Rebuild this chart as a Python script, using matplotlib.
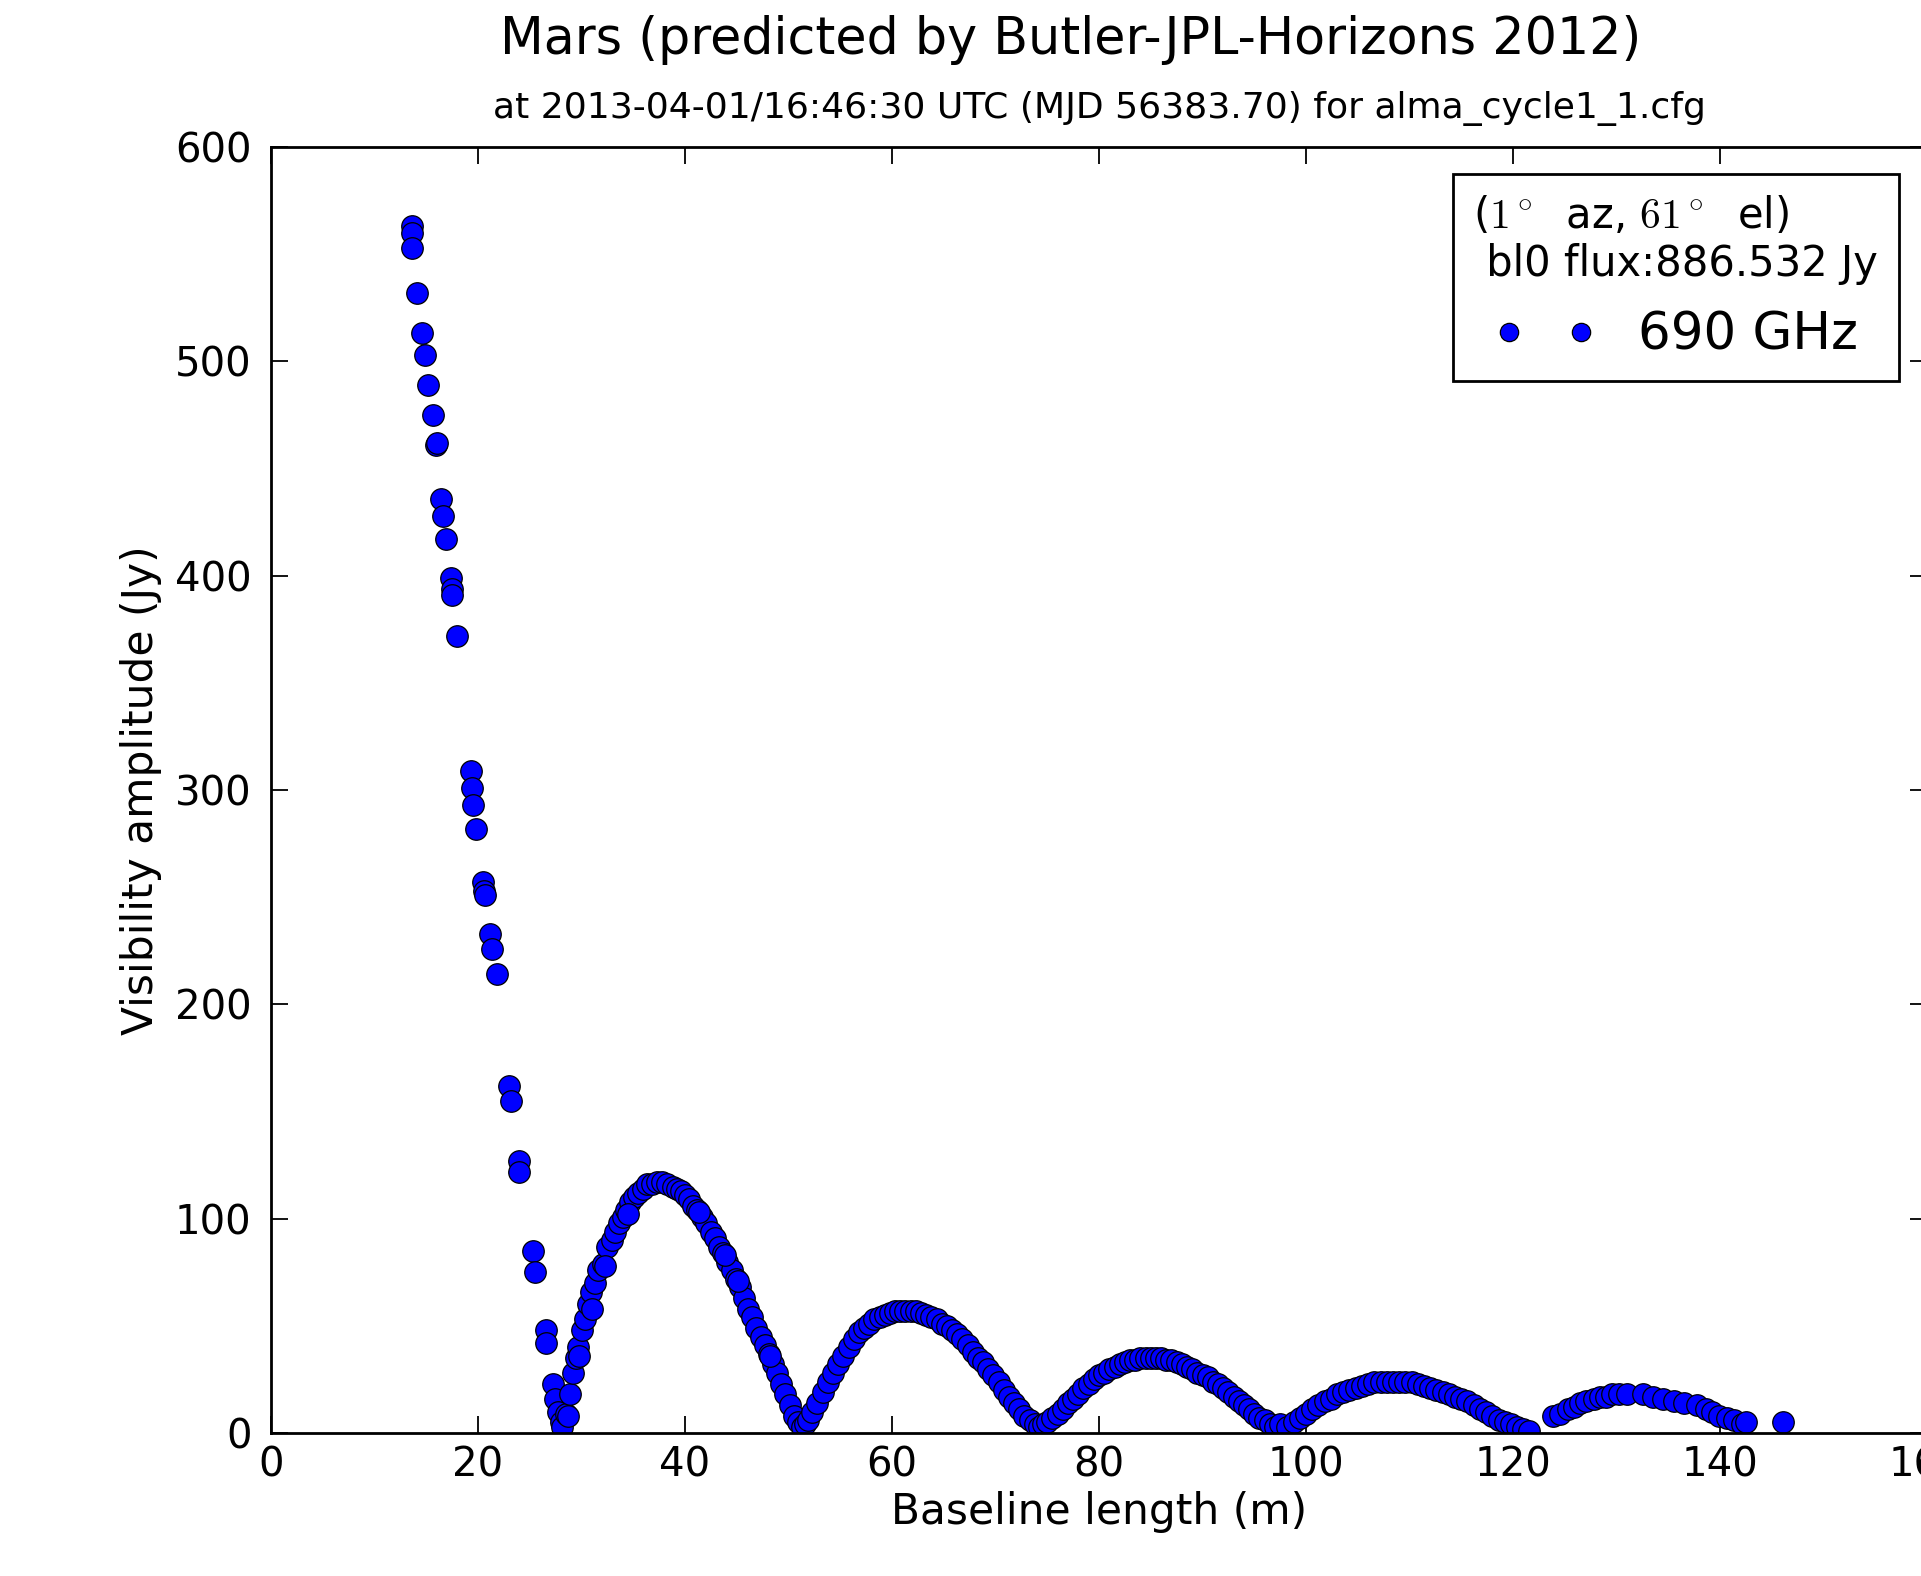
import numpy as np
import matplotlib.pyplot as plt

plt.rcParams['mathtext.fontset'] = 'cm'

# Visibility amplitude vs baseline length
# main lobe
main_x = [13.6, 13.6, 13.6, 14.1, 14.6, 14.9, 15.2, 15.7, 15.9, 16.0, 16.4, 16.6, 16.9, 17.4, 17.5, 17.5,
          18.0, 19.3, 19.4, 19.5, 19.8, 20.5, 20.6, 20.7, 21.2, 21.4, 21.8, 23.0, 23.2, 24.0, 24.0, 25.3,
          25.5, 26.6, 26.6, 27.2, 27.4, 27.7, 28.0, 28.1]
main_y = [563, 560, 553, 532, 513, 503, 489, 475, 461, 462, 436, 428, 417, 399, 394, 391,
          372, 309, 301, 293, 282, 257, 253, 251, 233, 226, 214, 162, 155, 127, 122, 85,
          75, 48, 42, 23, 16, 10, 5, 3]

# first side lobe
lobe1_x = [28.5, 28.7, 28.9, 29.2, 29.5, 29.7, 30.0, 30.3, 30.6, 30.9, 31.3, 31.6, 32.1, 32.5, 32.9, 33.2,
           33.6, 34.0, 34.3, 34.7, 35.1, 35.5, 35.9, 36.3, 36.8, 37.3, 37.8, 38.3, 38.8, 39.2, 39.6, 40.0,
           40.4, 40.8, 41.2, 41.6, 42.0, 42.5, 42.9, 43.3, 43.7, 44.1, 44.5, 44.9, 45.3, 45.7, 46.1, 46.5,
           46.9, 47.3, 47.7, 48.1, 48.5, 48.9, 49.3, 49.7, 50.1, 50.5, 50.9, 51.3,
           29.8, 31.0, 32.3, 34.5, 41.4, 43.9, 45.1, 48.2]
lobe1_y = [9, 8, 18, 28, 35, 40, 48, 53, 60, 66, 70, 76, 79, 87, 90, 94,
           98, 101, 104, 108, 110, 112, 114, 116, 116, 117, 117, 116, 115, 114, 113, 111,
           109, 106, 104, 101, 98, 94, 91, 87, 84, 80, 76, 72, 68, 63, 58, 54,
           49, 45, 41, 37, 32, 28, 23, 18, 13, 8, 5, 3,
           36, 58, 78, 102, 103, 83, 71, 36]

# second side lobe
lobe2_x = [51.6, 51.9, 52.3, 52.8, 53.3, 53.8, 54.3, 54.8, 55.3, 55.8, 56.3, 56.8, 57.3, 57.8, 58.3, 58.8,
           59.3, 59.8, 60.3, 60.8, 61.3, 61.8, 62.3, 62.8, 63.3, 63.8, 64.3, 64.8, 65.3, 65.8, 66.3, 66.8,
           67.3, 67.8, 68.3, 68.8, 69.3, 69.8, 70.3, 70.8, 71.3, 71.8, 72.3, 72.8, 73.3, 73.8, 74.2]
lobe2_y = [4, 6, 10, 14, 19, 24, 28, 32, 36, 40, 44, 47, 49, 51, 53, 54,
           55, 56, 57, 57, 57, 57, 57, 56, 55, 54, 53, 51, 50, 48, 46, 44,
           41, 38, 35, 33, 30, 27, 24, 20, 17, 14, 11, 8, 6, 4, 3]

# third side lobe
lobe3_x = [74.6, 75.0, 75.5, 76.0, 76.5, 77.0, 77.5, 78.0, 78.5, 79.0, 79.5, 80.0, 80.5, 81.0, 81.5, 82.0,
           82.5, 83.0, 83.5, 84.0, 84.5, 85.0, 85.5, 86.0, 86.5, 87.0, 87.5, 88.0, 88.5, 89.0, 89.5, 90.0,
           90.5, 91.0, 91.5, 92.0, 92.5, 93.0, 93.5, 94.0, 94.5, 95.0, 95.5, 96.0, 96.5, 97.0]
lobe3_y = [4, 5, 7, 9, 11, 14, 16, 18, 21, 23, 25, 27, 28, 30, 31, 32,
           33, 34, 34, 35, 35, 35, 35, 35, 34, 34, 33, 32, 31, 30, 28, 27,
           26, 24, 23, 21, 19, 17, 15, 13, 11, 9, 7, 6, 4, 3]

# fourth side lobe
lobe4_x = [97.5, 98.2, 98.8, 99.4, 100.0, 100.6, 101.2, 101.8, 102.4, 103.0, 103.6, 104.2, 104.8, 105.4,
           106.0, 106.6, 107.2, 107.8, 108.4, 109.0, 109.6, 110.2, 110.8, 111.4, 112.0, 112.6, 113.2, 113.8,
           114.4, 115.0, 115.6, 116.2, 116.8, 117.4, 118.0, 118.6, 119.2, 119.8, 120.4, 121.0, 121.5]
lobe4_y = [4, 3, 5, 7, 9, 11, 13, 15, 16, 18, 19, 20, 21, 22,
           23, 24, 24, 24, 24, 24, 24, 24, 23, 22, 21, 20, 19, 18,
           17, 16, 15, 13, 11, 10, 8, 6, 5, 4, 3, 2, 1]

# fifth side lobe (sparser)
lobe5_x = [123.9, 124.5, 125.3, 125.9, 126.5, 127.1, 127.8, 128.4, 129.0, 129.6, 130.2, 131.0, 132.6,
           133.5, 134.5, 135.6, 136.5, 137.8, 138.6, 139.2, 139.9, 140.7, 141.4, 142.1, 142.5, 146.1]
lobe5_y = [8, 9, 11, 12, 14, 15, 16, 17, 17, 18, 18, 18, 18,
           17, 16, 15, 14, 13, 11, 10, 8, 7, 6, 4, 5, 5]

baseline = np.concatenate([main_x, lobe1_x, lobe2_x, lobe3_x, lobe4_x, lobe5_x])
amplitude = np.concatenate([main_y, lobe1_y, lobe2_y, lobe3_y, lobe4_y, lobe5_y])

W, H = 1921, 1576
fig = plt.figure(figsize=(W / 100, H / 100), dpi=100)
# axes run slightly past the right edge (the original picture was cropped)
ax = fig.add_axes([271 / W, 143 / H, 1656 / W, 1286 / H])

ax.plot(baseline, amplitude, 'o', ls='none', color='blue', mec='black', mew=0.9,
        ms=15.5, label='690 GHz')

ax.set_xlim(0, 160)
ax.set_ylim(0, 600)
ax.set_xticks(np.arange(0, 161, 20))
ax.set_yticks(np.arange(0, 601, 100))
ax.tick_params(direction='in', length=12, width=1.3, top=True, right=True, labelsize=29)
ax.tick_params(axis='x', pad=9)
ax.tick_params(axis='y', pad=14)
for s in ax.spines.values():
    s.set_linewidth(2.0)

ax.set_xlabel('Baseline length (m)', fontsize=30.5)
ax.set_ylabel('Visibility amplitude (Jy)', fontsize=30.5)
ax.xaxis.set_label_coords(0.5, -0.045)
ax.yaxis.set_label_coords(-0.066, 0.5)

fig.text(1071 / W, 1 - 40 / H, 'Mars (predicted by Butler-JPL-Horizons 2012)',
         ha='center', va='center', fontsize=36.5)
fig.text(1099 / W, 1 - 108 / H, 'at 2013-04-01/16:46:30 UTC (MJD 56383.70) for alma_cycle1_1.cfg',
         ha='center', va='center', fontsize=26)

leg = ax.legend(loc='upper right', bbox_to_anchor=(0.983, 0.979), borderaxespad=0,
                numpoints=2, fontsize=37, markerscale=0.85, fancybox=False,
                edgecolor='black', framealpha=1,
                title='($1^\\circ$  az, $61^\\circ$  el)\n bl0 flux:886.532 Jy', title_fontsize=30)
leg.get_title().set_multialignment('left')
leg.get_frame().set_linewidth(2.0)

fig.savefig('out.png', dpi=100)
